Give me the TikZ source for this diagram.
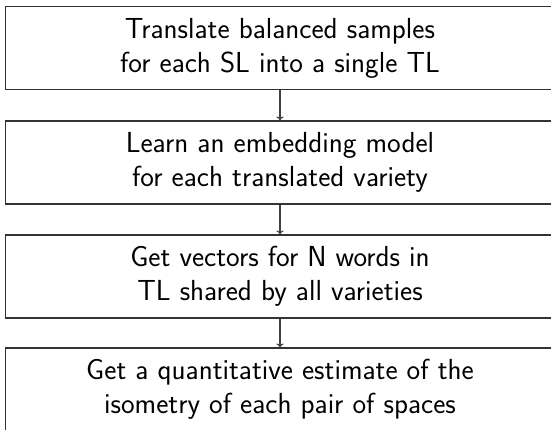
\documentclass[tikz,border=0pt]{standalone}
\usetikzlibrary{arrows.meta}
\begin{document}
\begin{tikzpicture}[x=1pt,y=1pt,
  stepbox/.style={draw=black!80, line width=1.1pt, minimum width=549pt, minimum height=83pt,
    inner sep=0pt, align=center, font=\sffamily\fontsize{29}{34}\selectfont},
  flow/.style={draw=black!75, line width=1.1pt, -{To[length=4pt,width=7pt]}}]
\useasboundingbox (0,0) rectangle (551,-429);
\clip (0,0) rectangle (551,-429);
\node[stepbox] (s1) at (280,-48) {Translate balanced samples\\for each SL into a single TL};
\node[stepbox] (s2) at (280,-162.5) {Learn an embedding model\\for each translated variety};
\node[stepbox] (s3) at (280,-276.5) {Get vectors for N words in\\TL shared by all varieties};
\node[stepbox] (s4) at (280,-389.5) {Get a quantitative estimate of the\\isometry of each pair of spaces};
\draw[flow] (s1) -- (s2);
\draw[flow] (s2) -- (s3);
\draw[flow] (s3) -- (s4);
\end{tikzpicture}
\end{document}
